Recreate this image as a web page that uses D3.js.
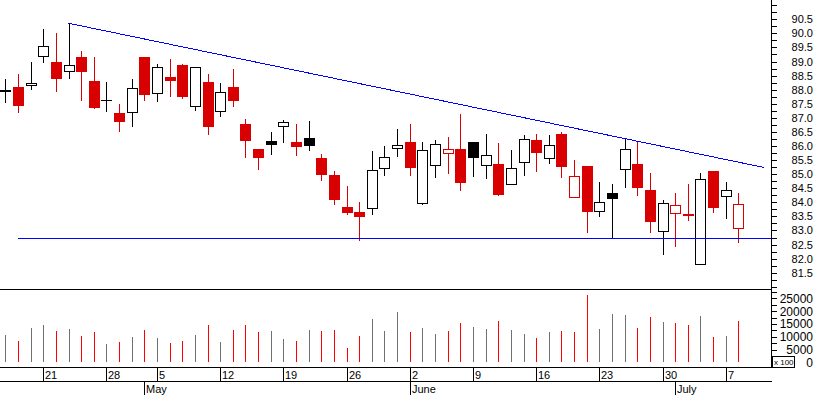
<!DOCTYPE html>
<html>
<head>
<meta charset="utf-8">
<script src="https://cdn.jsdelivr.net/npm/d3@7"></script>
<style>
  body { margin: 0; background: #fff; }
  text { font-family: "Liberation Sans", Arial, sans-serif; }
</style>
</head>
<body>
<script>
// trading days shown on the chart
var dates = ["2008-04-16","2008-04-17","2008-04-18","2008-04-21","2008-04-22","2008-04-23","2008-04-24","2008-04-25",
  "2008-04-28","2008-04-29","2008-04-30","2008-05-02","2008-05-05","2008-05-06","2008-05-07","2008-05-08","2008-05-09",
  "2008-05-12","2008-05-13","2008-05-14","2008-05-15","2008-05-16","2008-05-19","2008-05-20","2008-05-21","2008-05-22",
  "2008-05-23","2008-05-26","2008-05-27","2008-05-28","2008-05-29","2008-05-30","2008-06-02","2008-06-03","2008-06-04",
  "2008-06-05","2008-06-06","2008-06-09","2008-06-10","2008-06-11","2008-06-12","2008-06-13","2008-06-16","2008-06-17",
  "2008-06-18","2008-06-19","2008-06-20","2008-06-23","2008-06-24","2008-06-25","2008-06-26","2008-06-27","2008-06-30",
  "2008-07-01","2008-07-02","2008-07-03","2008-07-04","2008-07-07","2008-07-08"];

var open = [87.91, 88.11, 88.12, 89.17, 88.99, 88.62, 89.16, 88.31, 87.61, 87.17,
  87.16, 89.16, 87.84, 88.46, 88.88, 87.38, 88.27, 87.20, 88.10, 86.78,
  85.89, 86.18, 86.67, 86.14, 86.27, 85.57, 84.97, 83.83, 83.66, 83.75,
  85.17, 85.90, 86.14, 83.93, 85.30, 85.71, 85.89, 86.14, 85.28, 85.36,
  84.60, 85.38, 86.21, 85.53, 86.43, 84.14, 85.29, 83.65, 84.32, 85.14,
  85.36, 84.44, 82.95, 83.57, 83.59, 81.76, 85.11, 84.18, 83.06];
var high = [88.38, 88.56, 88.99, 90.16, 90.02, 90.36, 89.38, 89.16, 88.27, 87.49,
  88.38, 89.17, 88.91, 89.09, 88.91, 88.80, 88.56, 88.24, 88.74, 86.96,
  85.89, 86.50, 86.92, 86.78, 86.89, 85.72, 85.11, 84.58, 84.01, 85.82,
  86.00, 86.60, 86.78, 86.14, 86.21, 86.32, 87.14, 86.14, 86.43, 86.11,
  85.86, 86.39, 86.43, 86.39, 86.50, 85.50, 85.29, 84.72, 84.65, 86.27,
  86.18, 85.05, 84.08, 84.34, 84.65, 85.05, 85.11, 84.72, 84.33];
var low = [87.52, 87.18, 88.00, 88.96, 87.93, 88.39, 87.61, 87.33, 87.22, 86.51,
  86.69, 87.61, 87.57, 87.75, 87.68, 87.23, 86.40, 87.04, 87.40, 85.59,
  85.16, 85.69, 86.12, 85.66, 85.83, 84.77, 83.92, 83.56, 82.64, 83.56,
  84.95, 85.62, 84.95, 83.89, 84.87, 85.02, 84.41, 84.91, 84.83, 84.24,
  84.60, 84.95, 85.09, 85.37, 84.87, 84.14, 82.92, 83.49, 82.74, 84.52,
  84.24, 82.92, 82.13, 82.42, 83.35, 81.76, 83.63, 83.41, 82.57];
var close = [87.98, 87.43, 88.23, 89.54, 88.39, 88.87, 88.64, 87.36, 87.62, 86.86,
  88.05, 87.82, 88.82, 88.32, 87.75, 88.80, 86.69, 87.91, 87.61, 86.19,
  85.59, 86.05, 86.84, 85.98, 86.00, 84.98, 84.09, 83.63, 83.49, 85.14,
  85.60, 86.03, 85.23, 85.85, 86.06, 85.88, 84.70, 85.59, 85.67, 84.27,
  85.21, 86.24, 85.76, 86.03, 85.27, 84.92, 83.67, 84.00, 84.11, 85.88,
  84.52, 83.31, 83.98, 83.89, 83.52, 84.82, 83.81, 84.43, 83.94];
var volume = [10700, 8300, 13400, 14600, 12200, 13000, 10300, 11800, 7100, 7900,
  9900, 12600, 9500, 7500, 8300, 10700, 14600, 7900, 12600, 14600,
  11800, 12200, 9100, 8300, 12600, 12200, 12600, 5600, 10300, 16900,
  12200, 19600, 11800, 13400, 11000, 12200, 15400, 13800, 13000, 16100,
  12600, 11000, 9500, 11800, 12200, 11800, 26300, 13000, 18900, 18500,
  13400, 17700, 15700, 15400, 14600, 18100, 9900, 10300, 16100];

var weekTicks = ["2008-04-21","2008-04-28","2008-05-05","2008-05-12","2008-05-19","2008-05-26",
  "2008-06-02","2008-06-09","2008-06-16","2008-06-23","2008-06-30","2008-07-07"];
var weekLabels = ["21","28","5","12","19","26","2","9","16","23","30","7"];
var monthTicks = ["2008-05-02","2008-06-02","2008-07-01"];
var monthLabels = ["May","June","July"];

var priceLabels = ["81.5","82.0","82.5","83.0","83.5","84.0","84.5","85.0","85.5","86.0","86.5","87.0","87.5","88.0","88.5","89.0","89.5","90.0","90.5"];
var volumeLabels = ["0","5000","10000","15000","20000","25000"];

// trend lines (bar index, price)
var resistIdx = [5, 60];
var resistPrice = [90.36, 85.24];
var supportIdx = 1;
var supportPrice = 82.72;

var width = 817, height = 395;
var axisX = 771;
var red = "#d80000";

var svg = d3.select("body").append("svg")
  .attr("width", width).attr("height", height);
svg.append("rect").attr("width", width).attr("height", height).attr("fill", "white");

var x = d3.scaleLinear().domain([-0.42, 60.58]).range([0, axisX]);
var y = d3.scaleLinear().domain([81.5, 90.5]).range([272.7, 19.3]);
var yv = d3.scaleLinear().domain([0, 25000]).range([362.3, 298.3]);

var bars = dates.map(function(d, i) {
  var up = i === 0 || close[i] >= close[i - 1];
  return { i: i, o: open[i], h: high[i], l: low[i], c: close[i], v: volume[i],
    col: up ? "#000" : red, hollow: close[i] > open[i] };
});

function cx(i) { return Math.round(x(i)); }

// ---- price panel
var plot = svg.append("g").attr("shape-rendering", "crispEdges");

plot.append("g").selectAll("line").data(bars).enter().append("line")
  .attr("x1", function(d) { return cx(d.i) + 0.5; })
  .attr("x2", function(d) { return cx(d.i) + 0.5; })
  .attr("y1", function(d) { return Math.round(y(d.h)); })
  .attr("y2", function(d) { return Math.round(y(d.l)); })
  .attr("stroke", function(d) { return d.col; });

plot.append("g").selectAll("rect").data(bars).enter().append("rect")
  .each(function(d) {
    var top = Math.round(y(Math.max(d.o, d.c)));
    var bot = Math.round(y(Math.min(d.o, d.c)));
    var el = d3.select(this);
    if (bot - top < 2) {
      el.attr("x", cx(d.i) - 5).attr("y", top).attr("width", 11).attr("height", Math.max(1, bot - top))
        .attr("fill", d.col);
    } else if (d.hollow) {
      el.attr("x", cx(d.i) - 4.5).attr("y", top + 0.5).attr("width", 10).attr("height", bot - top - 1)
        .attr("fill", "white").attr("stroke", d.col).attr("stroke-width", 1.4);
    } else {
      el.attr("x", cx(d.i) - 5).attr("y", top).attr("width", 11).attr("height", bot - top)
        .attr("fill", d.col);
    }
  });

// trend lines
svg.append("line")
  .attr("x1", x(resistIdx[0])).attr("y1", y(resistPrice[0]))
  .attr("x2", x(resistIdx[1])).attr("y2", y(resistPrice[1]))
  .attr("stroke", "#0000ff").attr("stroke-width", 1).attr("shape-rendering", "crispEdges");
svg.append("line")
  .attr("x1", cx(supportIdx)).attr("x2", axisX)
  .attr("y1", Math.round(y(supportPrice)) + 0.5).attr("y2", Math.round(y(supportPrice)) + 0.5)
  .attr("stroke", "#0000ff").attr("stroke-width", 1).attr("shape-rendering", "crispEdges");

// ---- volume panel
svg.append("g").attr("shape-rendering", "crispEdges")
  .selectAll("line").data(bars).enter().append("line")
  .attr("x1", function(d) { return cx(d.i) + 0.5; })
  .attr("x2", function(d) { return cx(d.i) + 0.5; })
  .attr("y1", yv(0))
  .attr("y2", function(d) { return yv(d.v); })
  .attr("stroke", function(d) { return d.col === red ? "#ff0000" : "#707070"; });

// ---- frame lines
var frame = svg.append("g").attr("stroke", "#000").attr("shape-rendering", "crispEdges");
[289.5, 367.5, 381.5].forEach(function(yy) {
  frame.append("line").attr("x1", 0).attr("x2", axisX + 1).attr("y1", yy).attr("y2", yy);
});
frame.append("line").attr("x1", axisX + 0.5).attr("x2", axisX + 0.5).attr("y1", 0).attr("y2", 368);

// price axis
var pAxis = d3.axisRight(y)
  .tickValues(d3.range(81, 91.01, 0.25))
  .tickSize(5).tickFormat("");
svg.append("g").attr("transform", "translate(" + (axisX + 0.5) + ",0)").call(pAxis)
  .call(function(g) { g.select(".domain").remove(); })
  .attr("shape-rendering", "crispEdges");
svg.append("g").selectAll("text").data(priceLabels).enter().append("text")
  .attr("x", 813).attr("y", function(d) { return y(+d) + 4; })
  .attr("text-anchor", "end").attr("font-size", 11).text(function(d) { return d; });

// volume axis
var vAxis = d3.axisRight(yv)
  .tickValues(d3.range(0, 27501, 2500))
  .tickSize(5).tickFormat("");
svg.append("g").attr("transform", "translate(" + (axisX + 0.5) + ",0)").call(vAxis)
  .call(function(g) { g.select(".domain").remove(); })
  .attr("shape-rendering", "crispEdges");
svg.append("g").selectAll("text").data(volumeLabels).enter().append("text")
  .attr("x", 813).attr("y", function(d) { return yv(+d) + 4.5; })
  .attr("text-anchor", "end").attr("font-size", 12).text(function(d) { return d; });

// x100 box
svg.append("rect").attr("x", axisX + 1.5).attr("y", 356.5).attr("width", 22).attr("height", 11)
  .attr("fill", "white").attr("stroke", "#000").attr("shape-rendering", "crispEdges");
svg.append("text").attr("x", axisX + 3).attr("y", 365).attr("font-size", 8).text("x 100");

// date axis
var dg = svg.append("g");
weekTicks.forEach(function(d, k) {
  var xx = cx(dates.indexOf(d)) + 0.5;
  dg.append("line").attr("x1", xx).attr("x2", xx).attr("y1", 367).attr("y2", 381)
    .attr("stroke", "#000").attr("shape-rendering", "crispEdges");
  dg.append("text").attr("x", xx + 1.5).attr("y", 379).attr("font-size", 11).text(weekLabels[k]);
});
monthTicks.forEach(function(d, k) {
  var xx = cx(dates.indexOf(d)) + 0.5;
  dg.append("line").attr("x1", xx).attr("x2", xx).attr("y1", 381).attr("y2", 395)
    .attr("stroke", "#000").attr("shape-rendering", "crispEdges");
  dg.append("text").attr("x", xx + 1.5).attr("y", 393).attr("font-size", 11).text(monthLabels[k]);
});
</script>
</body>
</html>
